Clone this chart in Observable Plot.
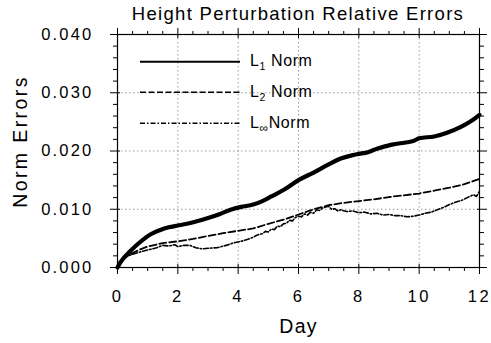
<!DOCTYPE html>
<html><head><meta charset="utf-8">
<script src="https://cdn.jsdelivr.net/npm/d3@7"></script>
<script src="https://cdn.jsdelivr.net/npm/@observablehq/plot@0.6"></script>
<style>
body{margin:0;background:#fff;font-family:"Liberation Sans",Arial,Helvetica,sans-serif;}
#wrap{position:relative;width:491px;height:343px;overflow:hidden;background:#fff;}
#title{position:absolute;left:117px;width:362px;top:1px;text-align:center;font-size:18.5px;line-height:26px;letter-spacing:1.3px;color:#000;white-space:nowrap;z-index:2;}
#chart{position:absolute;left:0;top:0;z-index:1;}
g[aria-label="y-axis tick label"] text{letter-spacing:2.2px;font-size:16.5px;}
g[aria-label="x-axis tick label"] text{letter-spacing:2.5px;font-size:16.5px;}
</style>
</head><body>
<div id="wrap"><div id="chart"></div><div id="title">Height Perturbation Relative Errors</div></div>
<script>
// ---- data ----
const seriesNames = ["L1 Norm", "L2 Norm", "L\u221E Norm"];

const dayL1 = [0,0.1,0.2,0.4,0.6,0.85,1.1,1.4,1.7,2.0,2.3,2.6,3.0,3.4,3.8,4.1,4.5,4.8,5.1,5.5,6.0,6.5,7.0,7.4,7.8,8.0,8.3,8.6,9.1,9.6,9.8,10.0,10.5,10.9,11.4,11.8,12.0];
const valL1 = [0,0.0009,0.0016,0.0027,0.0037,0.0048,0.0057,0.0064,0.0069,0.0072,0.0075,0.0079,0.0085,0.0092,0.0100,0.0104,0.0108,0.0114,0.0122,0.0133,0.0150,0.0163,0.0177,0.0187,0.0193,0.0195,0.0198,0.0204,0.0211,0.0215,0.0217,0.0222,0.0225,0.0231,0.0242,0.0254,0.0262];

const dayL2 = [0,0.1,0.2,0.4,0.7,1.0,1.5,2.0,2.5,3.0,3.5,4.0,4.5,5.0,5.5,6.0,6.5,7.0,7.5,8.0,8.5,9.0,9.5,10.0,10.5,11.0,11.5,12.0];
const valL2 = [0,0.0010,0.0016,0.0022,0.0030,0.0036,0.0042,0.0045,0.0049,0.0054,0.0059,0.0063,0.0067,0.0075,0.0082,0.0091,0.0100,0.0107,0.0111,0.0114,0.0117,0.0121,0.0124,0.0127,0.0132,0.0137,0.0143,0.0152];

const dayLinf = [0,0.1,0.2,0.4,0.7,1.0,1.3,1.5,1.7,1.9,2.0,2.2,2.4,2.6,2.8,3.0,3.3,3.6,3.9,4.1,4.3,4.5,4.6,4.7,4.8,4.9,5.0,5.1,5.2,5.3,5.4,5.5,5.6,5.7,5.8,5.9,6.0,6.1,6.2,6.3,6.4,6.5,6.6,6.7,6.8,6.9,7.0,7.1,7.2,7.3,7.4,7.6,7.8,8.0,8.2,8.4,8.6,8.8,9.0,9.2,9.4,9.6,9.8,10.0,10.2,10.4,10.6,10.8,11.0,11.2,11.4,11.6,11.8,11.9,12.0];
const valLinf = [0,0.0010,0.0015,0.0021,0.0026,0.0030,0.0034,0.0038,0.0037,0.0039,0.0036,0.0038,0.0038,0.0034,0.0032,0.0033,0.0034,0.0038,0.0043,0.0045,0.0048,0.0052,0.0055,0.0057,0.0058,0.0062,0.0061,0.0066,0.0065,0.0071,0.0070,0.0075,0.0076,0.0081,0.0080,0.0086,0.0088,0.0087,0.0092,0.0090,0.0095,0.0093,0.0099,0.0098,0.0102,0.0104,0.0105,0.0100,0.0101,0.0097,0.0099,0.0096,0.0097,0.0094,0.0095,0.0092,0.0093,0.0090,0.0091,0.0089,0.0089,0.0087,0.0088,0.0090,0.0093,0.0095,0.0099,0.0103,0.0108,0.0112,0.0115,0.0120,0.0125,0.0122,0.0131];

const xTicks = [0,2,4,6,8,10,12];
const yTicks = [0,0.01,0.02,0.03,0.04];
const xMinor = d3.range(0,12.001,0.5).filter(d => d % 2 !== 0);
const yMinor = d3.range(0,0.0401,0.002).filter(d => Math.round(d*1000) % 10 !== 0);

// ---- build tables ----
const l1 = dayL1.map((d,i) => ({day:d, value:valL1[i]}));
const l2 = dayL2.map((d,i) => ({day:d, value:valL2[i]}));
const linf = dayLinf.map((d,i) => ({day:d, value:valLinf[i]}));

const W = 491, H = 343, mL = 117, mR = 12, mT = 34, mB = 76;
const font = "Liberation Sans, Arial, Helvetica, sans-serif";
const noLab = {text:null, label:null};

const plot = Plot.plot({
  width: W, height: H,
  marginLeft: mL, marginRight: mR, marginTop: mT, marginBottom: mB,
  style: {fontFamily: font, fontSize: "16.5px", color: "#000", background: "transparent", overflow: "visible"},
  x: {domain: [0, 12]},
  y: {domain: [0, 0.04]},
  marks: [
    Plot.gridX(xTicks.filter(d => d > 0 && d < 12), {stroke: "#999", strokeOpacity: 1, strokeWidth: 1, strokeDasharray: "1.5,2.5"}),
    Plot.gridY(yTicks.filter(d => d > 0 && d < 0.04), {stroke: "#999", strokeOpacity: 1, strokeWidth: 1, strokeDasharray: "1.5,2.5"}),
    Plot.line(linf, {x: "day", y: "value", stroke: "#000", strokeWidth: 1.6, strokeDasharray: "5,2,1.5,2"}),
    Plot.line(l2, {x: "day", y: "value", stroke: "#000", strokeWidth: 1.8, strokeDasharray: "7,3"}),
    Plot.line(l1, {x: "day", y: "value", stroke: "#000", strokeWidth: 4.2, strokeLinejoin: "round", curve: "monotone-x"}),
    Plot.frame({stroke: "#000", strokeWidth: 1.2}),
    // x axes
    Plot.axisX(xTicks, {anchor: "bottom", tickSize: 7, tickPadding: 16, tickFormat: d => String(d), label: null}),
    Plot.axisX(xTicks, {anchor: "bottom", tickSize: -3, ...noLab}),
    Plot.axisX(xMinor, {anchor: "bottom", tickSize: 4, ...noLab}),
    Plot.axisX(xTicks, {anchor: "top", tickSize: 7, ...noLab}),
    Plot.axisX(xTicks, {anchor: "top", tickSize: -3, ...noLab}),
    Plot.axisX(xMinor, {anchor: "top", tickSize: 4, ...noLab}),
    // y axes
    Plot.axisY(yTicks, {anchor: "left", tickSize: 7, tickPadding: 17, tickFormat: d3.format(".3f"), label: null}),
    Plot.axisY(yTicks, {anchor: "left", tickSize: -3, ...noLab}),
    Plot.axisY(yMinor, {anchor: "left", tickSize: 4, ...noLab}),
    Plot.axisY(yTicks, {anchor: "right", tickSize: 7, ...noLab}),
    Plot.axisY(yTicks, {anchor: "right", tickSize: -3, ...noLab}),
    Plot.axisY(yMinor, {anchor: "right", tickSize: 4, ...noLab}),
    // x axis title
    Plot.text(["Day"], {frameAnchor: "bottom", dy: 52, lineAnchor: "top", text: d => d, fontSize: 19.5})
  ]
});
document.getElementById("chart").appendChild(plot);

const svg = d3.select(plot);
svg.selectAll("text").filter(function(){ return this.textContent === "Day"; }).style("letter-spacing", "1.2px");

// y axis title
svg.append("text")
  .attr("transform", "translate(27,141.5) rotate(-90)")
  .attr("text-anchor", "middle")
  .attr("font-family", font).attr("font-size", 19.5).attr("fill", "#000")
  .style("letter-spacing", "2.4px")
  .text("Norm Errors");

// ---- legend (inside the plot area, top-left) ----
const leg = svg.append("g").attr("font-family", font).attr("fill", "#000").attr("text-anchor", "start");
const legendStyles = [
  {w: 2, dash: null, sub: "1", gap: " "},
  {w: 1.6, dash: "6,2.5", sub: "2", gap: " "},
  {w: 1.6, dash: "5,2,1.5,2", sub: "\u221E", gap: ""}
];
const rowY = [61.7, 92.3, 123.3];
legendStyles.forEach((s, i) => {
  const y = rowY[i];
  leg.append("line").attr("x1", 140).attr("x2", 240).attr("y1", y).attr("y2", y)
    .attr("stroke", "#000").attr("stroke-width", s.w).attr("stroke-dasharray", s.dash);
  const t = leg.append("text").attr("x", 250).attr("y", y + 4.4).attr("font-size", 16).style("letter-spacing", "0.6px");
  t.append("tspan").text("L");
  t.append("tspan").attr("font-size", s.sub === "\u221E" ? 12 : 10.5).attr("dy", 4).text(s.sub);
  t.append("tspan").attr("dy", -4).text(s.gap + "Norm");
});
</script>
</body></html>
